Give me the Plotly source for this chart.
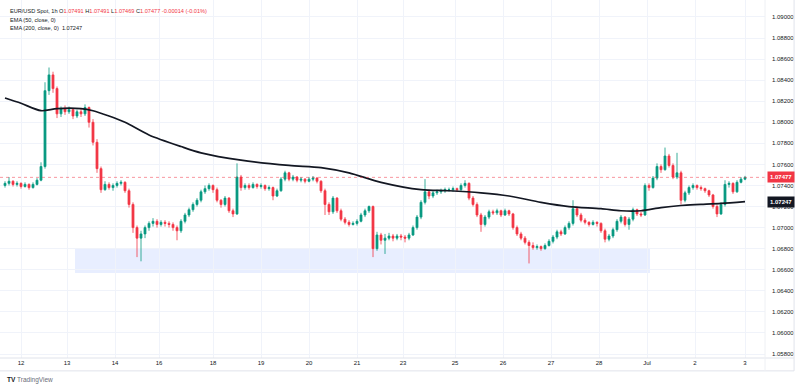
import plotly.graph_objects as go

# ---------------- data (2-hour candles, EUR/USD) ----------------
opens = [
    1.0740, 1.0742, 1.0744, 1.0741, 1.0742, 1.0739, 1.0741, 1.0738, 1.0741, 1.0745,
    1.0758, 1.0830, 1.0845, 1.0832, 1.0808, 1.0813, 1.0810, 1.0812, 1.0806, 1.0810,
    1.0808, 1.0814, 1.0800, 1.0781, 1.0756, 1.0736, 1.0741, 1.0738, 1.0740, 1.0742,
    1.0743, 1.0735, 1.0722, 1.0700, 1.0690, 1.0694, 1.0700, 1.0704, 1.0706, 1.0703,
    1.0705, 1.0704, 1.0703, 1.0700, 1.0697, 1.0706, 1.0712, 1.0717, 1.0722, 1.0726,
    1.0734, 1.0737, 1.0740, 1.0736, 1.0726, 1.0722, 1.0728, 1.0716, 1.0713, 1.0748,
    1.0738, 1.0740, 1.0738, 1.0741, 1.0739, 1.0740, 1.0737, 1.0738, 1.0730, 1.0735,
    1.0746, 1.0752, 1.0746, 1.0748, 1.0745, 1.0746, 1.0744, 1.0746, 1.0747, 1.0744,
    1.0735, 1.0722, 1.0715, 1.0728, 1.0716, 1.0708, 1.0705, 1.0703, 1.0704, 1.0706,
    1.0712, 1.0716, 1.0720, 1.0680, 1.0693, 1.0688, 1.0690, 1.0692, 1.0690, 1.0692,
    1.0691, 1.0690, 1.0693, 1.0700, 1.0710, 1.0724, 1.0734, 1.0730, 1.0733, 1.0734,
    1.0735, 1.0736, 1.0736, 1.0737, 1.0736, 1.0740, 1.0742, 1.0728, 1.0722, 1.0712,
    1.0703, 1.0710, 1.0715, 1.0714, 1.0716, 1.0712, 1.0716, 1.0713, 1.0700, 1.0694,
    1.0690, 1.0686, 1.0683, 1.0681, 1.0682, 1.0680, 1.0683, 1.0687, 1.0691, 1.0696,
    1.0694, 1.0700, 1.0704, 1.0718, 1.0712, 1.0707, 1.0705, 1.0703, 1.0705, 1.0704,
    1.0697, 1.0689, 1.0692, 1.0698, 1.0706, 1.0710, 1.0703, 1.0708, 1.0717, 1.0713,
    1.0712, 1.0740, 1.0738, 1.0747, 1.0758, 1.0755, 1.0768, 1.0759, 1.0748, 1.0752,
    1.0726, 1.0733, 1.0738, 1.0740, 1.0738, 1.0737, 1.0735, 1.0731, 1.0720, 1.0713,
    1.0722, 1.0741, 1.0742, 1.0734, 1.0743, 1.0746,
]
highs = [
    1.0744, 1.0748, 1.0745, 1.0744, 1.0743, 1.0743, 1.0742, 1.0743, 1.0747, 1.0762,
    1.0838, 1.0852, 1.0848, 1.0834, 1.0815, 1.0816, 1.0815, 1.0813, 1.0812, 1.0813,
    1.0817, 1.0815, 1.0803, 1.0784, 1.0758, 1.0744, 1.0743, 1.0742, 1.0744, 1.0745,
    1.0744, 1.0737, 1.0724, 1.0702, 1.0697, 1.0702, 1.0706, 1.0709, 1.0708, 1.0707,
    1.0707, 1.0706, 1.0705, 1.0702, 1.0708, 1.0714, 1.0719, 1.0724, 1.0728, 1.0736,
    1.0740, 1.0742, 1.0741, 1.0738, 1.0727, 1.0730, 1.0729, 1.0718, 1.0761, 1.0750,
    1.0742, 1.0742, 1.0743, 1.0742, 1.0742, 1.0741, 1.0740, 1.0739, 1.0737, 1.0748,
    1.0754, 1.0753, 1.0750, 1.0749, 1.0748, 1.0747, 1.0748, 1.0749, 1.0748, 1.0745,
    1.0737, 1.0724, 1.0730, 1.0729, 1.0718, 1.0710, 1.0707, 1.0706, 1.0708, 1.0714,
    1.0718, 1.0721, 1.0721, 1.0696, 1.0695, 1.0694, 1.0695, 1.0694, 1.0694, 1.0694,
    1.0693, 1.0695, 1.0702, 1.0712, 1.0726, 1.0746, 1.0736, 1.0735, 1.0736, 1.0737,
    1.0738, 1.0738, 1.0739, 1.0738, 1.0742, 1.0745, 1.0743, 1.0730, 1.0724, 1.0714,
    1.0712, 1.0717, 1.0717, 1.0718, 1.0717, 1.0718, 1.0717, 1.0714, 1.0702, 1.0696,
    1.0692, 1.0688, 1.0686, 1.0684, 1.0683, 1.0685, 1.0689, 1.0693, 1.0698, 1.0698,
    1.0702, 1.0706, 1.0726, 1.0720, 1.0714, 1.0709, 1.0706, 1.0707, 1.0706, 1.0705,
    1.0699, 1.0694, 1.0700, 1.0708, 1.0712, 1.0711, 1.0710, 1.0719, 1.0718, 1.0715,
    1.0742, 1.0742, 1.0749, 1.0761, 1.0760, 1.0776, 1.0770, 1.0761, 1.0771, 1.0754,
    1.0735, 1.0740, 1.0742, 1.0741, 1.0740, 1.0738, 1.0736, 1.0732, 1.0722, 1.0724,
    1.0745, 1.0744, 1.0743, 1.0745, 1.0748, 1.07491,
]
lows = [
    1.0738, 1.0740, 1.0739, 1.0739, 1.0737, 1.0738, 1.0736, 1.0737, 1.0740, 1.0744,
    1.0756, 1.0826, 1.0828, 1.0804, 1.0805, 1.0807, 1.0808, 1.0803, 1.0804, 1.0805,
    1.0806, 1.0795, 1.0778, 1.0752, 1.0733, 1.0735, 1.0736, 1.0735, 1.0738, 1.0740,
    1.0733, 1.0719, 1.0695, 1.0672, 1.0668, 1.0690, 1.0697, 1.0701, 1.0700, 1.0701,
    1.0701, 1.0700, 1.0697, 1.0688, 1.0695, 1.0704, 1.0710, 1.0715, 1.0720, 1.0724,
    1.0732, 1.0735, 1.0733, 1.0724, 1.0719, 1.0720, 1.0714, 1.0710, 1.0712, 1.0735,
    1.0736, 1.0736, 1.0737, 1.0737, 1.0737, 1.0735, 1.0735, 1.0726, 1.0729, 1.0734,
    1.0744, 1.0744, 1.0744, 1.0743, 1.0743, 1.0742, 1.0743, 1.0744, 1.0742, 1.0733,
    1.0712, 1.0712, 1.0713, 1.0714, 1.0706, 1.0703, 1.0701, 1.0702, 1.0702, 1.0705,
    1.0710, 1.0714, 1.0672, 1.0678, 1.0684, 1.0675, 1.0688, 1.0687, 1.0688, 1.0688,
    1.0686, 1.0688, 1.0692, 1.0698, 1.0708, 1.0722, 1.0727, 1.0728, 1.0731, 1.0732,
    1.0733, 1.0734, 1.0734, 1.0734, 1.0735, 1.0738, 1.0726, 1.0720, 1.0710, 1.0696,
    1.0701, 1.0708, 1.0712, 1.0712, 1.0710, 1.0711, 1.0711, 1.0698, 1.0692, 1.0688,
    1.0684, 1.0666, 1.0679, 1.0679, 1.0678, 1.0679, 1.0682, 1.0685, 1.0689, 1.0692,
    1.0693, 1.0698, 1.0702, 1.0710, 1.0705, 1.0703, 1.0701, 1.0702, 1.0701, 1.0695,
    1.0686, 1.0687, 1.0690, 1.0696, 1.0704, 1.0701, 1.0698, 1.0706, 1.0711, 1.0710,
    1.0711, 1.0735, 1.0737, 1.0745, 1.0752, 1.0754, 1.0757, 1.0746, 1.0746, 1.0722,
    1.0724, 1.0731, 1.0736, 1.0736, 1.0735, 1.0733, 1.0729, 1.0718, 1.0710, 1.0712,
    1.0720, 1.0738, 1.0732, 1.0733, 1.0742, 1.0745,
]
closes = [
    1.0742, 1.0744, 1.0741, 1.0742, 1.0739, 1.0741, 1.0738, 1.0741, 1.0745, 1.0758,
    1.0830, 1.0845, 1.0832, 1.0808, 1.0813, 1.0810, 1.0812, 1.0806, 1.0810, 1.0808,
    1.0814, 1.0800, 1.0781, 1.0756, 1.0736, 1.0741, 1.0738, 1.0740, 1.0742, 1.0743,
    1.0735, 1.0722, 1.0700, 1.0690, 1.0694, 1.0700, 1.0704, 1.0706, 1.0703, 1.0705,
    1.0704, 1.0703, 1.0700, 1.0697, 1.0706, 1.0712, 1.0717, 1.0722, 1.0726, 1.0734,
    1.0737, 1.0740, 1.0736, 1.0726, 1.0722, 1.0728, 1.0716, 1.0713, 1.0748, 1.0738,
    1.0740, 1.0738, 1.0741, 1.0739, 1.0740, 1.0737, 1.0738, 1.0730, 1.0735, 1.0746,
    1.0752, 1.0746, 1.0748, 1.0745, 1.0746, 1.0744, 1.0746, 1.0747, 1.0744, 1.0735,
    1.0722, 1.0715, 1.0728, 1.0716, 1.0708, 1.0705, 1.0703, 1.0704, 1.0706, 1.0712,
    1.0716, 1.0720, 1.0680, 1.0693, 1.0688, 1.0690, 1.0692, 1.0690, 1.0692, 1.0691,
    1.0690, 1.0693, 1.0700, 1.0710, 1.0724, 1.0734, 1.0730, 1.0733, 1.0734, 1.0735,
    1.0736, 1.0736, 1.0737, 1.0736, 1.0740, 1.0742, 1.0728, 1.0722, 1.0712, 1.0703,
    1.0710, 1.0715, 1.0714, 1.0716, 1.0712, 1.0716, 1.0713, 1.0700, 1.0694, 1.0690,
    1.0686, 1.0683, 1.0681, 1.0682, 1.0680, 1.0683, 1.0687, 1.0691, 1.0696, 1.0694,
    1.0700, 1.0704, 1.0718, 1.0712, 1.0707, 1.0705, 1.0703, 1.0705, 1.0704, 1.0697,
    1.0689, 1.0692, 1.0698, 1.0706, 1.0710, 1.0703, 1.0708, 1.0717, 1.0713, 1.0712,
    1.0740, 1.0738, 1.0747, 1.0758, 1.0755, 1.0768, 1.0759, 1.0748, 1.0752, 1.0726,
    1.0733, 1.0738, 1.0740, 1.0738, 1.0737, 1.0735, 1.0731, 1.0720, 1.0713, 1.0722,
    1.0741, 1.0742, 1.0734, 1.0743, 1.0746, 1.07477,
]
bars = list(range(len(closes)))

# EMA(200) at selected bars
ema_bars = [0, 4, 9, 13, 19, 22, 26, 30, 36, 44, 49, 59, 71, 79, 86, 94, 104, 111,
            119, 126, 134, 141, 149, 154, 159, 164, 169, 174, 179, 185]
ema_vals = [1.0823, 1.0818, 1.0811, 1.0813, 1.0813, 1.0811, 1.0806, 1.0800, 1.0788,
            1.0777, 1.0771, 1.0764, 1.0759, 1.0757, 1.0752, 1.0743, 1.0736, 1.0735,
            1.0733, 1.0730, 1.0724, 1.0720, 1.0718, 1.0716, 1.0716, 1.0719, 1.0721,
            1.0722, 1.0723, 1.07247]

# time axis labels (bar positions of day starts)
day_ticks = [4, 15.5, 27.5, 38.5, 52, 64, 76, 88, 99.5, 112.5, 124.5, 136.5, 148.5, 160.5, 172.5, 185]
day_labels = ['12', '13', '14', '16', '18', '19', '20', '21', '23', '25', '26', '27', '28', 'Jul', '2', '3']

price_ticks = [1.058, 1.060, 1.062, 1.064, 1.066, 1.068, 1.070, 1.072, 1.074,
               1.076, 1.078, 1.080, 1.082, 1.084, 1.086, 1.088, 1.090]

# support zone
zone_start, zone_end = 17.5, 161.25
zone_low, zone_high = 1.0657, 1.0680

last_price = 1.07477
ema_last = 1.07247

UP = '#089981'
DOWN = '#f23645'
TXT = '#131722'
GRID = '#f0f3fa'
FONT = 'Liberation Sans, Arial, sans-serif'

fig = go.Figure()
fig.add_trace(go.Candlestick(
    x=bars, open=opens, high=highs, low=lows, close=closes,
    increasing=dict(line=dict(color=UP, width=0.8), fillcolor=UP),
    decreasing=dict(line=dict(color=DOWN, width=0.8), fillcolor=DOWN),
    whiskerwidth=0, showlegend=False, hoverinfo='skip'))
fig.add_trace(go.Scatter(
    x=ema_bars, y=ema_vals, mode='lines',
    line=dict(color=TXT, width=1.7, shape='spline', smoothing=0.8),
    showlegend=False, hoverinfo='skip'))

shapes = [
    dict(type='rect', xref='x', yref='y', x0=zone_start, x1=zone_end, y0=zone_low, y1=zone_high,
         fillcolor='rgba(41,98,255,0.11)', line=dict(width=0), layer='below'),
    dict(type='line', xref='paper', yref='y', x0=0, x1=1, y0=last_price, y1=last_price,
         line=dict(color='rgba(242,54,69,0.65)', width=0.8, dash='dot')),
    # frame lines
    dict(type='line', xref='paper', yref='paper', x0=0, x1=1.038, y0=0, y1=0,
         line=dict(color='#e0e3eb', width=1)),
    dict(type='line', xref='paper', yref='paper', x0=0, x1=1.038, y0=-0.036, y1=-0.036,
         line=dict(color='#e0e3eb', width=1)),
    dict(type='line', xref='paper', yref='paper', x0=1.038, x1=1.038, y0=-0.036, y1=1,
         line=dict(color='#e0e3eb', width=1)),
    dict(type='line', xref='paper', yref='paper', x0=1, x1=1, y0=-0.036, y1=1,
         line=dict(color='#eef0f4', width=1)),
]

R = "<span style='color:#f23645'>%s</span>"
annotations = [
    dict(xref='paper', yref='paper', x=0.0105, y=0.969, xanchor='left', yanchor='middle',
         showarrow=False, font=dict(size=5.6, color=TXT, family=FONT),
         text='EUR/USD Spot, 1h O' + R % '1.07491' + ' H' + R % '1.07491' + ' L' + R % '1.07469'
              + ' C' + R % '1.07477' + ' ' + R % '-0.00014 (-0.01%)'),
    dict(xref='paper', yref='paper', x=0.0105, y=0.945, xanchor='left', yanchor='middle',
         showarrow=False, font=dict(size=5.6, color=TXT, family=FONT), text='EMA (50, close, 0)'),
    dict(xref='paper', yref='paper', x=0.0105, y=0.921, xanchor='left', yanchor='middle',
         showarrow=False, font=dict(size=5.6, color=TXT, family=FONT),
         text='EMA (200, close, 0)  1.07247'),
    dict(xref='paper', yref='y', x=1.002, y=last_price, xanchor='left', yanchor='middle',
         showarrow=False, bgcolor=DOWN, borderpad=2,
         font=dict(size=6, color='white', family=FONT), text='<b>1.07477</b>'),
    dict(xref='paper', yref='y', x=1.002, y=ema_last, xanchor='left', yanchor='middle',
         showarrow=False, bgcolor=TXT, borderpad=2,
         font=dict(size=6, color='white', family=FONT), text='<b>1.07247</b>'),
    dict(xref='paper', yref='paper', x=0.006, y=-0.062, xanchor='left', yanchor='middle',
         showarrow=False, font=dict(size=6.5, color=TXT, family=FONT),
         text="<b>TV</b> <span style='color:#6a6d78'>TradingView</span>"),
]

fig.update_layout(
    width=800, height=388,
    margin=dict(l=0, r=35, t=0, b=30),
    paper_bgcolor='white', plot_bgcolor='white',
    showlegend=False,
    font=dict(family=FONT, size=6, color=TXT),
    xaxis=dict(range=[-1.25, 190], tickvals=day_ticks, ticktext=day_labels,
               showgrid=True, gridcolor=GRID, gridwidth=1, zeroline=False,
               rangeslider=dict(visible=False), ticks='', showline=False,
               tickfont=dict(size=6, color=TXT)),
    yaxis=dict(side='right', range=[1.05762, 1.09161], tickvals=price_ticks,
               tickformat='.5f', showgrid=True, gridcolor=GRID, gridwidth=1,
               zeroline=False, ticks='', showline=False, ticklabelstandoff=6,
               tickfont=dict(size=6, color=TXT)),
    shapes=shapes,
    annotations=annotations,
)

fig.write_html('out.html', config={'displayModeBar': False},
               post_script="document.body.style.margin='0px';document.body.style.overflow='hidden';")
